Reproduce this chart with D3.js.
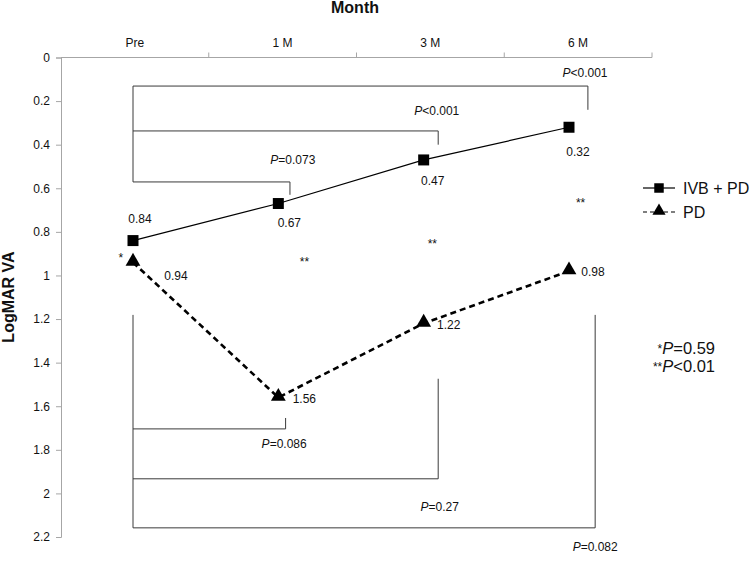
<!DOCTYPE html>
<html>
<head>
<meta charset="utf-8">
<script src="https://cdn.jsdelivr.net/npm/d3@7"></script>
<style>
  body { margin: 0; background: #fff; }
  text { font-family: "Liberation Sans", Arial, sans-serif; fill: #111; }
</style>
</head>
<body>
<svg id="svg" width="751" height="561"></svg>
<script>
// data
var months = ["Pre", "1 M", "3 M", "6 M"];
var ivbPd = [0.84, 0.67, 0.47, 0.32];
var pdOnly = [0.94, 1.56, 1.22, 0.98];
var yTicks = [0, 0.2, 0.4, 0.6, 0.8, 1, 1.2, 1.4, 1.6, 1.8, 2, 2.2];
var seriesNames = ["IVB + PD", "PD"];

// comparison brackets (start at Pre), end given as month index
var topBracketEnd = [3.13, 2.10, 1.08];
var topBracketLevel = [0.131, 0.337, 0.571];
var topBracketTip = [0.24, 0.40, 0.63];
var topBracketP = ["<0.001", "<0.001", "=0.073"];
var topPAt = [[3.11, 0.071], [2.09, 0.245], [1.10, 0.470]];

var botBracketEnd = [1.05, 2.10, 3.18];
var botBracketLevel = [1.704, 1.933, 2.158];
var botBracketTip = [1.654, 1.474, 1.181];
var botBracketP = ["=0.086", "=0.27", "=0.082"];
var botPAt = [[1.04, 1.773], [2.11, 2.062], [3.18, 2.245]];

// between-group marks
var starText = ["*", "**", "**", "**"];
var starAt = [[-0.083, 0.91], [1.18, 0.93], [2.06, 0.846], [3.08, 0.66]];
var noteStars = ["*", "**"];
var noteP = ["=0.59", "<0.01"];

var svg = d3.select("#svg");

/* SCALES */
var xBand = d3.scaleBand().domain(months).range([61, 652]);
var x = d3.scaleLinear().domain([0, 3]).range([133, 569]);
var y = d3.scaleLinear().domain([0, 2.2]).range([57.5, 537]);

var axisColor = "#a6a6a6";
var lineColor = "#3a3a3a";

/* AXES */
var yAxis = svg.append("g")
    .attr("transform", "translate(61,0)")
    .call(d3.axisLeft(y).tickValues(yTicks).tickSize(5).tickPadding(6).tickFormat(d3.format("")));
yAxis.select(".domain").attr("stroke", axisColor);
yAxis.selectAll(".tick line").attr("stroke", axisColor);
yAxis.selectAll(".tick text").style("font-size", "12px").attr("fill", "#222");

// top axis line with ticks at band edges
svg.append("line")
    .attr("x1", 61).attr("x2", xBand.range()[1])
    .attr("y1", y(0)).attr("y2", y(0))
    .attr("stroke", axisColor);
svg.selectAll(".xtick")
    .data(months)
    .enter().append("line")
    .attr("class", "xtick")
    .attr("x1", function(d) { return xBand(d) + xBand.bandwidth(); })
    .attr("x2", function(d) { return xBand(d) + xBand.bandwidth(); })
    .attr("y1", y(0)).attr("y2", y(0) - 5)
    .attr("stroke", axisColor);
svg.selectAll(".xlab")
    .data(months)
    .enter().append("text")
    .attr("class", "xlab")
    .attr("x", function(d) { return xBand(d) + xBand.bandwidth() / 2; })
    .attr("y", 47)
    .attr("text-anchor", "middle")
    .style("font-size", "12px")
    .text(function(d) { return d; });

svg.append("text")
    .attr("x", 355).attr("y", 13)
    .attr("text-anchor", "middle")
    .style("font-size", "16px").style("font-weight", "bold")
    .text("Month");

svg.append("text")
    .attr("transform", "translate(14,297) rotate(-90)")
    .attr("text-anchor", "middle")
    .style("font-size", "16px").style("font-weight", "bold")
    .text("LogMAR VA");

/* BRACKETS */
function pLabel(sel, rest) {
    sel.append("tspan").style("font-style", "italic").text("P");
    sel.append("tspan").text(rest);
}

var brackets = svg.append("g").attr("fill", "none").attr("stroke", lineColor).attr("stroke-width", 1);
brackets.append("line")
    .attr("x1", x(0)).attr("x2", x(0))
    .attr("y1", y(topBracketLevel[0])).attr("y2", y(topBracketLevel[2]));
brackets.append("line")
    .attr("x1", x(0)).attr("x2", x(0))
    .attr("y1", y(botBracketTip[2])).attr("y2", y(botBracketLevel[2]));

topBracketEnd.forEach(function(e, i) {
    brackets.append("path")
        .attr("d", "M" + x(0) + "," + y(topBracketLevel[i]) +
            "H" + x(e) + "V" + y(topBracketTip[i]));
    svg.append("text")
        .attr("x", x(topPAt[i][0])).attr("y", y(topPAt[i][1]))
        .attr("dy", "0.35em").attr("text-anchor", "middle")
        .style("font-size", "12px")
        .call(pLabel, topBracketP[i]);
});
botBracketEnd.forEach(function(e, i) {
    brackets.append("path")
        .attr("d", "M" + x(0) + "," + y(botBracketLevel[i]) +
            "H" + x(e) + "V" + y(botBracketTip[i]));
    svg.append("text")
        .attr("x", x(botPAt[i][0])).attr("y", y(botPAt[i][1]))
        .attr("dy", "0.35em").attr("text-anchor", "middle")
        .style("font-size", "12px")
        .call(pLabel, botBracketP[i]);
});

/* SERIES */
var line = d3.line()
    .x(function(d, i) { return x(i); })
    .y(function(d) { return y(d); });

svg.append("path")
    .datum(ivbPd)
    .attr("d", line)
    .attr("fill", "none").attr("stroke", "#000").attr("stroke-width", 1.2);
svg.append("path")
    .datum(pdOnly)
    .attr("d", line)
    .attr("fill", "none").attr("stroke", "#000").attr("stroke-width", 2.6)
    .attr("stroke-dasharray", "6,4");

var square = d3.symbol().type(d3.symbolSquare).size(121);
var tri = d3.symbol().type(d3.symbolTriangle).size(95);

svg.selectAll(".sq")
    .data(ivbPd)
    .enter().append("path")
    .attr("class", "sq")
    .attr("d", square)
    .attr("transform", function(d, i) { return "translate(" + x(i) + "," + y(d) + ")"; });
svg.selectAll(".tri")
    .data(pdOnly)
    .enter().append("path")
    .attr("class", "tri")
    .attr("d", tri)
    .attr("transform", function(d, i) { return "translate(" + x(i) + "," + (y(d) - 1) + ")"; });

// value labels
var sqOff = [[7, -22], [11, 19], [9, 21], [9, 25]];
var triOff = [[43, 13], [26, 1], [25, 1], [24, 1]];
svg.selectAll(".sqlab")
    .data(ivbPd)
    .enter().append("text")
    .attr("x", function(d, i) { return x(i) + sqOff[i][0]; })
    .attr("y", function(d, i) { return y(d) + sqOff[i][1]; })
    .attr("dy", "0.35em").attr("text-anchor", "middle")
    .style("font-size", "12px")
    .text(function(d) { return d.toFixed(2); });
svg.selectAll(".trilab")
    .data(pdOnly)
    .enter().append("text")
    .attr("x", function(d, i) { return x(i) + triOff[i][0]; })
    .attr("y", function(d, i) { return y(d) + triOff[i][1]; })
    .attr("dy", "0.35em").attr("text-anchor", "middle")
    .style("font-size", "12px")
    .text(function(d) { return d.toFixed(2); });

// stars
svg.selectAll(".star")
    .data(starText)
    .enter().append("text")
    .attr("x", function(d, i) { return x(starAt[i][0]); })
    .attr("y", function(d, i) { return y(starAt[i][1]) + 6; })
    .attr("text-anchor", "middle")
    .style("font-size", "12px")
    .text(function(d) { return d; });

/* LEGEND */
var legend = svg.append("g").attr("transform", "translate(643,188)");
seriesNames.forEach(function(name, i) {
    var row = legend.append("g").attr("transform", "translate(0," + (i * 24) + ")");
    row.append("line")
        .attr("x1", 0).attr("x2", 32)
        .attr("stroke", "#000")
        .attr("stroke-width", 1.2)
        .attr("stroke-dasharray", i === 0 ? null : "4,3");
    row.append("path")
        .attr("d", i === 0 ? d3.symbol().type(d3.symbolSquare).size(90)() : d3.symbol().type(d3.symbolTriangle).size(75)())
        .attr("transform", "translate(16," + (i === 0 ? 0 : -1) + ")");
    row.append("text")
        .attr("x", 40).attr("dy", "0.35em")
        .style("font-size", "16px")
        .text(name);
});

// note
noteStars.forEach(function(s, i) {
    var t = svg.append("text")
        .attr("x", 715).attr("y", 354 + i * 18)
        .attr("dy", "0.35em").attr("text-anchor", "end")
        .style("font-size", "16.5px");
    t.append("tspan").style("font-size", "12px").attr("dy", "-0.1em").text(s);
    t.append("tspan").style("font-style", "italic").attr("dy", "0.1em").text("P");
    t.append("tspan").text(noteP[i]);
});
</script>
</body>
</html>
